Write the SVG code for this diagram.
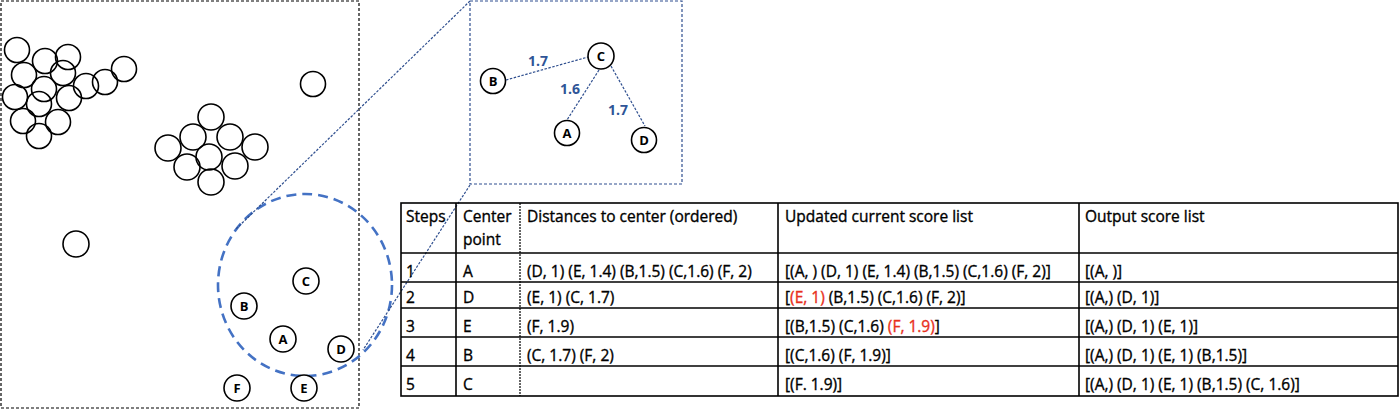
<svg xmlns="http://www.w3.org/2000/svg" width="1400" height="410" viewBox="0 0 1400 410">
<style>
.pt{fill:none;stroke:#000;stroke-width:1.6}
.nd{fill:#fff;stroke:#000;stroke-width:1.6}
.lbl{font-family:"Open Sans",Lato,sans-serif;font-size:13px;font-weight:bold;text-anchor:middle;fill:#000}
.dist{font-family:"Open Sans",Lato,sans-serif;font-size:14px;font-weight:bold;fill:#2F5597;text-anchor:middle}
.zl{fill:none;stroke:#2F4F8F;stroke-width:1.2;stroke-dasharray:2.5 1.5}
.tl{stroke:#000;stroke-width:1.6}
.tx{font-family:"Open Sans",Lato,sans-serif;font-size:15.5px;fill:#000;stroke:#000;stroke-width:0.35}
.red{fill:#E8301C;stroke:#E8301C}
</style>
<rect width="1400" height="410" fill="#fff"/>
<g id="space-box">
<rect x="1" y="1" width="358" height="407" fill="none" stroke="#000" stroke-width="1.2" stroke-dasharray="3 2"/>
</g>
<g id="cluster-1">
<circle class="pt" cx="17" cy="50" r="12.5"/>
<circle class="pt" cx="45" cy="61" r="12.5"/>
<circle class="pt" cx="68" cy="57" r="12.5"/>
<circle class="pt" cx="24" cy="75" r="12.5"/>
<circle class="pt" cx="63" cy="73" r="12.5"/>
<circle class="pt" cx="44" cy="89" r="12.5"/>
<circle class="pt" cx="86" cy="86" r="12.5"/>
<circle class="pt" cx="105" cy="82" r="12.5"/>
<circle class="pt" cx="124" cy="69" r="12.5"/>
<circle class="pt" cx="15" cy="97" r="12.5"/>
<circle class="pt" cx="39" cy="104" r="12.5"/>
<circle class="pt" cx="69" cy="98" r="12.5"/>
<circle class="pt" cx="23" cy="121" r="12.5"/>
<circle class="pt" cx="58" cy="122" r="12.5"/>
<circle class="pt" cx="39" cy="136" r="12.5"/>
</g>
<g id="cluster-2">
<circle class="pt" cx="211" cy="117" r="13"/>
<circle class="pt" cx="193" cy="137" r="13"/>
<circle class="pt" cx="230" cy="137" r="13"/>
<circle class="pt" cx="168" cy="148" r="13"/>
<circle class="pt" cx="209" cy="157" r="13"/>
<circle class="pt" cx="255" cy="147" r="13"/>
<circle class="pt" cx="187" cy="167" r="13"/>
<circle class="pt" cx="235" cy="166" r="13"/>
<circle class="pt" cx="211" cy="182" r="13"/>
</g>
<g id="outliers">
<circle class="pt" cx="313" cy="84" r="12.5"/>
<circle class="pt" cx="76" cy="244" r="13"/>
</g>
<g id="neighborhood">
<ellipse cx="305" cy="285" rx="87" ry="91" fill="none" stroke="#4472C4" stroke-width="2.6" stroke-dasharray="10 6"/>
</g>
<g id="connectors">
<line class="zl" x1="470" y1="1" x2="235" y2="230"/>
<line class="zl" x1="470" y1="185" x2="363" y2="350"/>
<line class="zl" x1="506" y1="80" x2="588" y2="57"/>
<line class="zl" x1="599" y1="70" x2="567" y2="120"/>
<line class="zl" x1="611" y1="66" x2="645" y2="126"/>
</g>
<g id="points">
<g id="pt-C"><circle class="nd" cx="306" cy="281" r="13"/><text class="lbl" x="306" y="286">C</text></g>
<g id="pt-B"><circle class="nd" cx="244" cy="306" r="13"/><text class="lbl" x="244" y="311">B</text></g>
<g id="pt-A"><circle class="nd" cx="283" cy="339" r="13"/><text class="lbl" x="283" y="344">A</text></g>
<g id="pt-D"><circle class="nd" cx="341" cy="349" r="13"/><text class="lbl" x="341" y="354">D</text></g>
<g id="pt-F"><circle class="nd" cx="237" cy="388" r="13"/><text class="lbl" x="237" y="393">F</text></g>
<g id="pt-E"><circle class="nd" cx="304" cy="388" r="13"/><text class="lbl" x="304" y="393">E</text></g>
</g>
<g id="inset">
<rect x="470" y="1" width="212" height="183" fill="none" stroke="#2F4F8F" stroke-width="1.2" stroke-dasharray="3 2"/>
<g id="in-C"><circle class="nd" cx="601" cy="56" r="13"/><text class="lbl" x="601" y="61">C</text></g>
<g id="in-B"><circle class="nd" cx="493" cy="81" r="12.5"/><text class="lbl" x="493" y="86">B</text></g>
<g id="in-A"><circle class="nd" cx="567" cy="133" r="12.5"/><text class="lbl" x="567" y="138">A</text></g>
<g id="in-D"><circle class="nd" cx="644" cy="140" r="12.5"/><text class="lbl" x="644" y="145">D</text></g>
<text class="dist" x="538" y="66">1.7</text>
<text class="dist" x="570" y="94">1.6</text>
<text class="dist" x="618" y="115">1.7</text>
</g>
<g id="table">
<rect x="401" y="203" width="997" height="193" fill="none" stroke="#000" stroke-width="1.6"/>
<line class="tl" x1="456" y1="203" x2="456" y2="396"/>
<line x1="520" y1="203" x2="520" y2="396" stroke="#000" stroke-width="1.2" stroke-dasharray="2 1"/>
<line class="tl" x1="778" y1="203" x2="778" y2="396"/>
<line class="tl" x1="1079" y1="203" x2="1079" y2="396"/>
<line class="tl" x1="401" y1="253" x2="1398" y2="253"/>
<line class="tl" x1="401" y1="282" x2="1398" y2="282"/>
<line class="tl" x1="401" y1="308" x2="1398" y2="308"/>
<line class="tl" x1="401" y1="337" x2="1398" y2="337"/>
<line class="tl" x1="401" y1="366" x2="1398" y2="366"/>
<g class="tx">
<text x="406" y="222">Steps</text>
<text x="463" y="222">Center</text>
<text x="463" y="245">point</text>
<text x="527" y="222">Distances to center (ordered)</text>
<text x="785" y="222">Updated current score list</text>
<text x="1085" y="222">Output score list</text>
<text x="406" y="277">1</text><text x="463" y="277">A</text>
<text x="527" y="277">(D, 1) (E, 1.4) (B,1.5) (C,1.6) (F, 2)</text>
<text x="785" y="277">[(A, ) (D, 1) (E, 1.4) (B,1.5) (C,1.6) (F, 2)]</text>
<text x="1085" y="277">[(A, )]</text>
<text x="406" y="303">2</text><text x="463" y="303">D</text>
<text x="527" y="303">(E, 1) (C, 1.7)</text>
<text x="785" y="303">[<tspan class="red">(E, 1)</tspan> (B,1.5) (C,1.6) (F, 2)]</text>
<text x="1085" y="303">[(A,) (D, 1)]</text>
<text x="406" y="332">3</text><text x="463" y="332">E</text>
<text x="527" y="332">(F, 1.9)</text>
<text x="785" y="332">[(B,1.5) (C,1.6) <tspan class="red">(F, 1.9)</tspan>]</text>
<text x="1085" y="332">[(A,) (D, 1) (E, 1)]</text>
<text x="406" y="361">4</text><text x="463" y="361">B</text>
<text x="527" y="361">(C, 1.7) (F, 2)</text>
<text x="785" y="361">[(C,1.6) (F, 1.9)]</text>
<text x="1085" y="361">[(A,) (D, 1) (E, 1) (B,1.5)]</text>
<text x="406" y="390">5</text><text x="463" y="390">C</text>
<text x="785" y="390">[(F. 1.9)]</text>
<text x="1085" y="390">[(A,) (D, 1) (E, 1) (B,1.5) (C, 1.6)]</text>
</g>
</g>
</svg>
